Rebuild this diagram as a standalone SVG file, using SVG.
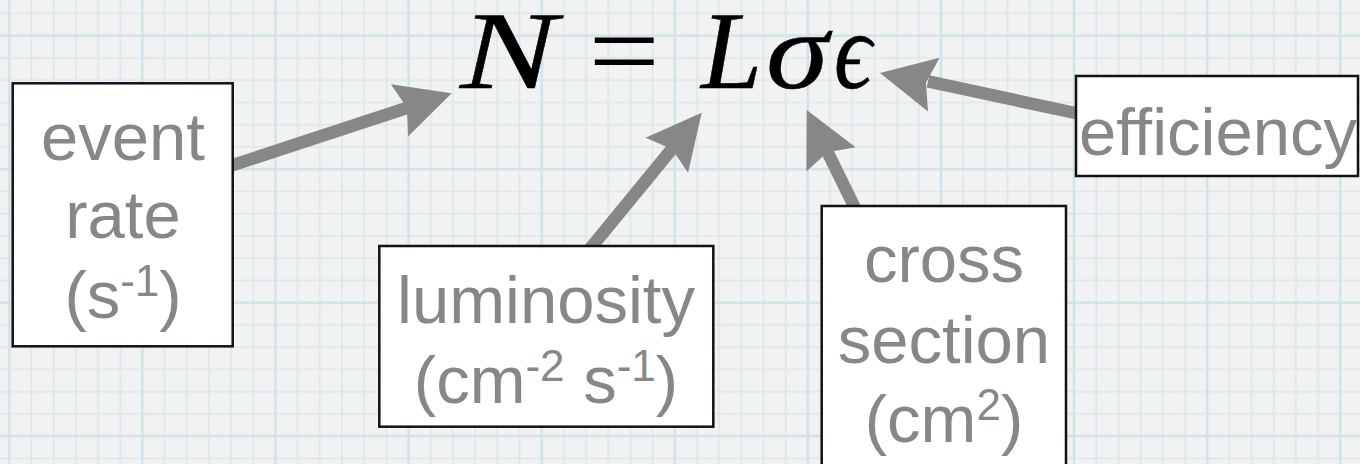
<svg xmlns="http://www.w3.org/2000/svg" width="1360" height="464" viewBox="0 0 1360 464">
<defs>
<style>
.box{fill:#ffffff;stroke:#111111;stroke-width:2.5}
.lbl{font-family:"Liberation Sans",Arial,sans-serif;font-size:67px;fill:#878787;text-anchor:middle}
.sup{font-size:44px}
.eq{font-family:"Liberation Serif","DejaVu Serif",serif;font-size:110px;fill:#000000;stroke:#000000;stroke-width:0.5;font-style:italic}
.shaft{stroke:#878787;stroke-width:12.5;fill:none}
.head{fill:#878787}
.gmin{stroke:#d9e8ee;stroke-width:1.6}
.gmaj{stroke:#cfe2ea;stroke-width:2.4}
</style>
<pattern id="grid" patternUnits="userSpaceOnUse" x="9.3" y="35.7" width="133.1" height="133.5">
<rect width="133.1" height="133.5" fill="#f2f2f2"/>
<path class="gmin" d="M22.18 0V133.5M44.37 0V133.5M66.55 0V133.5M88.73 0V133.5M110.92 0V133.5M0 22.25H133.1M0 44.5H133.1M0 66.75H133.1M0 89H133.1M0 111.25H133.1"/>
<path class="gmaj" d="M0 0V133.5M133.1 0V133.5M0 0H133.1M0 133.5H133.1"/>
</pattern>
</defs>
<rect width="1360" height="464" fill="url(#grid)"/>
<g id="connectors">
<g id="c-rate">
<line class="shaft" x1="230" y1="166" x2="409" y2="107.3"/>
<polygon class="head" points="451.7,93.3 390.9,84.3 407.05,107.94 408,136.5"/>
</g>
<g id="c-lumi">
<line class="shaft" x1="589" y1="250" x2="673.5" y2="147"/>
<polygon class="head" points="701.7,112.7 645.54,137.77 671.87,149.04 688.06,172.67"/>
</g>
<g id="c-cross">
<line class="shaft" x1="856" y1="210" x2="826.5" y2="150"/>
<polygon class="head" points="806.7,110 855.68,147.17 827.48,152.15 806.36,171.49"/>
</g>
<g id="c-eff">
<line class="shaft" x1="1080" y1="114" x2="928" y2="81.4"/>
<polygon class="head" points="880,73 939.54,57.63 925.96,82.85 928.02,111.41"/>
</g>
</g>
<g id="equation">
<text class="eq" transform="translate(460,88) scale(1.32,1)">N</text>
<text class="eq" style="font-style:normal;stroke-width:0" transform="translate(588.5,88) scale(1.15,1)">=</text>
<text class="eq" x="701" y="88">L</text>
<text class="eq" transform="translate(766,88) scale(1.15,1)">σ</text>
<text class="eq" transform="translate(834,88) scale(0.85,1)">ϵ</text>
</g>
<g id="n-rate">
<rect class="box" x="12.7" y="83.3" width="220" height="263"/>
<text class="lbl" x="123" y="160">event</text>
<text class="lbl" x="123" y="238">rate</text>
<text class="lbl" x="123" y="318">(s<tspan class="sup" dy="-22">-1</tspan><tspan dy="22">)</tspan></text>
</g>
<g id="n-lumi">
<rect class="box" x="379.3" y="246" width="334" height="180.7"/>
<text class="lbl" x="546" y="323">luminosity</text>
<text class="lbl" x="546" y="403">(cm<tspan class="sup" dy="-22">-2</tspan><tspan dy="22"> s</tspan><tspan class="sup" dy="-22">-1</tspan><tspan dy="22">)</tspan></text>
</g>
<g id="n-cross">
<rect class="box" x="821.7" y="206" width="244.3" height="270"/>
<text class="lbl" x="944" y="282">cross</text>
<text class="lbl" x="944" y="363">section</text>
<text class="lbl" x="944" y="442">(cm<tspan class="sup" dy="-22">2</tspan><tspan dy="22">)</tspan></text>
</g>
<g id="n-eff">
<rect class="box" x="1076" y="76" width="282" height="100"/>
<text class="lbl" x="1218" y="155">efficiency</text>
</g>
</svg>
